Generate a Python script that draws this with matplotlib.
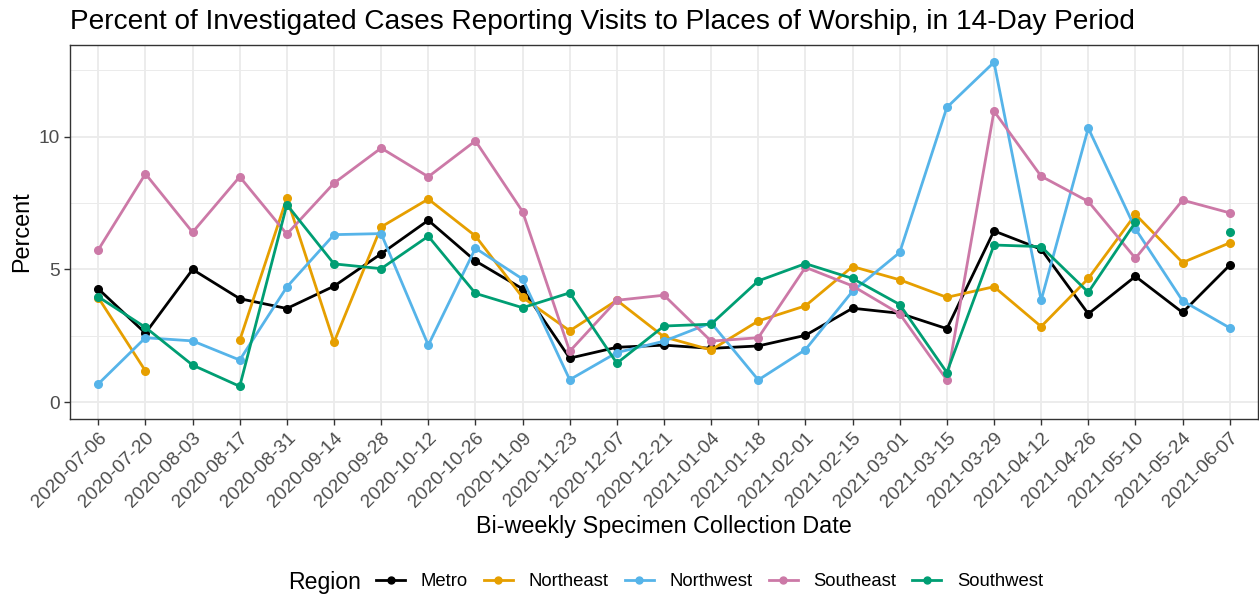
import numpy as np
import matplotlib.pyplot as plt
from matplotlib.lines import Line2D

plt.rcParams['font.family'] = ['Liberation Sans', 'DejaVu Sans']

dates = ['2020-07-06', '2020-07-20', '2020-08-03', '2020-08-17', '2020-08-31',
         '2020-09-14', '2020-09-28', '2020-10-12', '2020-10-26', '2020-11-09',
         '2020-11-23', '2020-12-07', '2020-12-21', '2021-01-04', '2021-01-18',
         '2021-02-01', '2021-02-15', '2021-03-01', '2021-03-15', '2021-03-29',
         '2021-04-12', '2021-04-26', '2021-05-10', '2021-05-24', '2021-06-07']

nan = np.nan
metro = [4.27, 2.60, 5.00, 3.90, 3.53, 4.37, 5.59, 6.85, 5.32, 4.27,
         1.66, 2.07, 2.15, 2.03, 2.12, 2.52, 3.54, 3.35, 2.77, 6.45,
         5.76, 3.33, 4.74, 3.38, 5.16]
northeast = [3.94, 1.18, nan, 2.33, 7.69, 2.26, 6.60, 7.65, 6.26, 3.95,
             2.69, 3.84, 2.46, 1.97, 3.06, 3.63, 5.11, 4.61, 3.95, 4.35,
             2.85, 4.66, 7.07, 5.26, 6.00]
northwest = [0.69, 2.43, 2.31, 1.59, 4.34, 6.31, 6.35, 2.15, 5.80, 4.64,
             0.85, 1.87, 2.30, 2.99, 0.84, 1.98, 4.18, 5.64, 11.10, 12.80,
             3.84, 10.32, 6.53, 3.82, 2.80]
southeast = [5.74, 8.60, 6.40, 8.49, 6.33, 8.25, 9.57, 8.49, 9.84, 7.18,
             1.92, 3.84, 4.03, 2.30, 2.43, 5.08, 4.38, 3.33, 0.84, 10.96,
             8.51, 7.56, 5.42, 7.61, 7.13]
southwest = [3.97, 2.82, 1.40, 0.60, 7.44, 5.21, 5.03, 6.25, 4.10, 3.56,
             4.12, 1.47, 2.87, 2.94, 4.57, 5.22, 4.66, 3.68, 1.12, 5.92,
             5.86, 4.14, 6.78, nan, 6.40]

regions = ['Metro', 'Northeast', 'Northwest', 'Southeast', 'Southwest']
series = [metro, northeast, northwest, southeast, southwest]
colors = ['#000000', '#E69F00', '#56B4E9', '#CC79A7', '#009E73']

W, H = 1259, 596
fig = plt.figure(figsize=(W / 100, H / 100), dpi=100)
ax = fig.add_axes([70 / W, 177 / H, 1188 / W, 374 / H])

x = np.arange(len(dates))
for name, vals, c in zip(regions, series, colors):
    ax.plot(x, vals, color=c, lw=2, marker='o', ms=5.5, label=name, zorder=3)

ax.set_xlim(-0.6, len(dates) - 0.4)
ax.set_ylim(-0.63, 13.45)
ax.set_xticks(x)
ax.set_xticklabels(dates, rotation=45, ha='right', rotation_mode='anchor')
ax.set_yticks([0, 5, 10])
ax.set_yticks([2.5, 7.5, 12.5], minor=True)
ax.tick_params(axis='both', which='major', labelsize=13.8, colors='#333333',
               length=4, width=1, labelcolor='#4D4D4D')
ax.tick_params(axis='y', which='minor', length=0)
ax.grid(True, which='major', color='#EBEBEB', lw=1.3, zorder=0)
ax.grid(True, which='minor', axis='y', color='#EBEBEB', lw=0.7, zorder=0)
ax.set_axisbelow(True)
for s in ax.spines.values():
    s.set_color('#333333')
    s.set_linewidth(1)

# titles
fig.text(22 / W, 1 - 232 / H, 'Percent', fontsize=16.8, rotation=90,
         ha='center', va='center')
fig.text(664 / W, 1 - 527 / H, 'Bi-weekly Specimen Collection Date',
         fontsize=16.8, ha='center', va='center')
fig.text(70 / W, 1 - 29 / H,
         'Percent of Investigated Cases Reporting Visits to Places of Worship, in 14-Day Period',
         fontsize=20.15, va='baseline', ha='left')

# legend at the bottom, title on the left like ggplot
fig.text(288 / W, 1 - 582 / H, 'Region', fontsize=16.6, ha='left', va='center')
handles = [Line2D([0], [0], color=c, lw=2, marker='o', ms=5) for c in colors]
fig.legend(handles, regions, loc='center left', bbox_to_anchor=(376 / W, 1 - 582 / H),
           ncol=5, frameon=False, fontsize=13.3, handlelength=1.57,
           columnspacing=0.86, handletextpad=0.86, borderpad=0, borderaxespad=0)

fig.savefig('out.png', dpi=100)
